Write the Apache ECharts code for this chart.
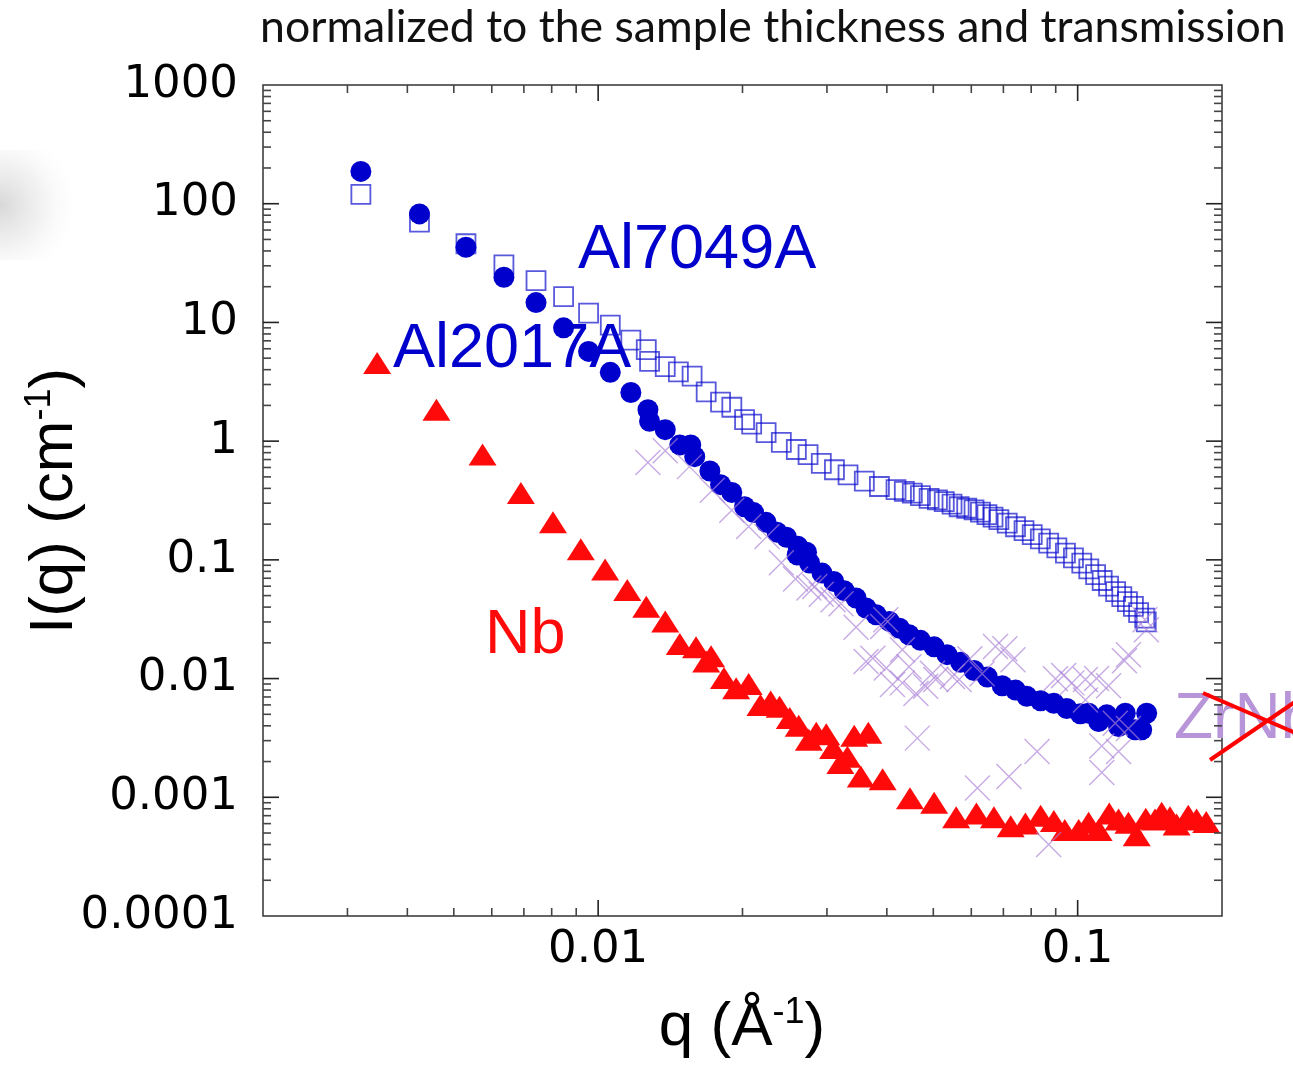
<!DOCTYPE html>
<html>
<head>
<meta charset="utf-8">
<title>I(q) normalized</title>
<script src="https://cdn.jsdelivr.net/npm/echarts@6/dist/echarts.min.js"></script>
<style>
  html, body { margin: 0; padding: 0; background: #fff; }
  #chart { width: 1293px; height: 1065px; }
</style>
</head>
<body>
<div id="chart"></div>
<script>
// [q (1/Å), I(q) (1/cm)]
const al7049A = [
  [0.0032, 120], [0.00424, 70], [0.0053, 46], [0.00636, 30.5], [0.00742, 22.5], [0.00847, 16.5],
  [0.00955, 12], [0.0106, 9.5], [0.0117, 7.1], [0.0126, 5.9], [0.0128, 4.7], [0.0138, 4.25],
  [0.0147, 3.83], [0.0157, 3.53], [0.0168, 2.6], [0.018, 2.13], [0.019, 1.93], [0.0202, 1.52],
  [0.0209, 1.39], [0.0224, 1.18], [0.0241, 0.975], [0.0259, 0.85], [0.0274, 0.77], [0.0292, 0.65],
  [0.0311, 0.574], [0.0332, 0.52], [0.0359, 0.46], [0.0386, 0.415], [0.0418, 0.39], [0.0435, 0.377],
  [0.0452, 0.365], [0.047, 0.348], [0.049, 0.33], [0.051, 0.32], [0.0527, 0.31], [0.0547, 0.295],
  [0.0566, 0.28], [0.0587, 0.272], [0.0608, 0.264], [0.0627, 0.252], [0.0647, 0.24], [0.0666, 0.229],
  [0.0685, 0.218], [0.0713, 0.204], [0.0742, 0.19], [0.0773, 0.176], [0.0804, 0.163], [0.0836, 0.15],
  [0.087, 0.1385], [0.0905, 0.126], [0.0943, 0.114], [0.098, 0.104], [0.102, 0.094], [0.1055, 0.084],
  [0.109, 0.075], [0.1125, 0.067], [0.116, 0.06], [0.12, 0.054], [0.1236, 0.049], [0.127, 0.0445],
  [0.1307, 0.0405], [0.134, 0.036], [0.138, 0.0323], [0.139, 0.03]
];
const al2017A = [
  [0.0032, 187], [0.00424, 82], [0.0053, 43], [0.00636, 24], [0.00742, 14.7], [0.00847, 9.0],
  [0.00955, 5.7], [0.0106, 3.8], [0.0117, 2.57], [0.0127, 1.84], [0.0128, 1.47], [0.0138, 1.25],
  [0.0148, 0.93], [0.0156, 0.93], [0.0159, 0.74], [0.0171, 0.56], [0.018, 0.43], [0.019, 0.37],
  [0.0202, 0.28], [0.0211, 0.25], [0.0224, 0.207], [0.0236, 0.171], [0.0247, 0.155], [0.0261, 0.13],
  [0.026, 0.11], [0.0272, 0.116], [0.0276, 0.094], [0.0293, 0.0774], [0.031, 0.0658], [0.0326, 0.055],
  [0.0345, 0.0477], [0.0362, 0.0393], [0.038, 0.0345], [0.0405, 0.0303], [0.0425, 0.0266], [0.0445, 0.0234],
  [0.047, 0.021], [0.0502, 0.0185], [0.0534, 0.0159], [0.057, 0.0137], [0.0608, 0.0117], [0.0648, 0.0103],
  [0.0696, 0.0087], [0.0742, 0.008], [0.0783, 0.0071], [0.0837, 0.0065], [0.0892, 0.0062], [0.0949, 0.0056],
  [0.1013, 0.00505], [0.1054, 0.0051], [0.1106, 0.00435], [0.115, 0.00495], [0.1217, 0.00395], [0.1257, 0.0051],
  [0.1318, 0.0037], [0.136, 0.0037], [0.1393, 0.0051]
];
const nb = [
  [0.00346, 4.55], [0.0046, 1.84], [0.00574, 0.77], [0.0069, 0.365], [0.00805, 0.207], [0.0092, 0.123],
  [0.01034, 0.083], [0.0115, 0.0557], [0.0126, 0.0403], [0.0138, 0.0303], [0.0148, 0.0196], [0.016, 0.0184],
  [0.0172, 0.0154], [0.0168, 0.0139], [0.0183, 0.0101], [0.0194, 0.0083], [0.0206, 0.009], [0.0218, 0.006],
  [0.0229, 0.0064], [0.0239, 0.0058], [0.0251, 0.00465], [0.0262, 0.004], [0.0275, 0.00305], [0.0285, 0.0035],
  [0.0299, 0.0034], [0.0309, 0.0026], [0.032, 0.00194], [0.0331, 0.0022], [0.0342, 0.0033], [0.0366, 0.0035],
  [0.0353, 0.0015], [0.0392, 0.00142], [0.0447, 0.00098], [0.0502, 0.0009], [0.0558, 0.00068], [0.0615, 0.00073],
  [0.0669, 0.00068], [0.0725, 0.00057], [0.0778, 0.0006], [0.0837, 0.0007], [0.0892, 0.00063], [0.094, 0.00053],
  [0.1005, 0.00053], [0.1054, 0.00061], [0.1106, 0.00053], [0.1164, 0.00073], [0.1217, 0.00065], [0.1276, 0.00061],
  [0.1328, 0.00048], [0.1387, 0.00066], [0.145, 0.00065], [0.1497, 0.00074], [0.1558, 0.00068], [0.1608, 0.00059],
  [0.1701, 0.0007], [0.177, 0.00065], [0.1854, 0.00062]
];
const zrNb = [
  [0.0127, 0.66], [0.0138, 0.83], [0.0155, 0.61], [0.0173, 0.386], [0.019, 0.262], [0.0206, 0.191],
  [0.0225, 0.157], [0.0241, 0.0945], [0.0258, 0.069], [0.0275, 0.058], [0.0283, 0.0597], [0.0292, 0.0513],
  [0.0309, 0.0461], [0.0321, 0.0427], [0.0345, 0.027], [0.0362, 0.0139], [0.0374, 0.0148], [0.0392, 0.0275],
  [0.0398, 0.0313], [0.0399, 0.0123], [0.0411, 0.0089], [0.0431, 0.0175], [0.0431, 0.0092], [0.0445, 0.0126],
  [0.046, 0.0075], [0.0463, 0.00315], [0.0482, 0.0086], [0.0498, 0.0111], [0.0506, 0.0098], [0.0548, 0.0104],
  [0.0566, 0.0098], [0.0596, 0.0147], [0.0618, 0.0012], [0.0632, 0.011], [0.0674, 0.0186], [0.0705, 0.0178],
  [0.0719, 0.0015], [0.0733, 0.0144], [0.0823, 0.00243], [0.087, 0.0004], [0.0899, 0.00996], [0.0935, 0.0106],
  [0.0973, 0.0092], [0.1038, 0.0098], [0.1038, 0.0066], [0.1095, 0.01], [0.1123, 0.0027], [0.1123, 0.00162],
  [0.116, 0.0087], [0.1198, 0.0042], [0.1217, 0.00243], [0.1252, 0.0141], [0.1276, 0.0159], [0.1276, 0.0038],
  [0.1382, 0.0313], [0.1391, 0.0258]
];

const xRange = [0.002, 0.2];
const yRange = [0.0001, 1000];
const xTickLabels = ['0.01', '0.1'];
const yTickLabels = ['0.0001', '0.001', '0.01', '0.1', '1', '10', '100', '1000'];

function decadeLabel(labels, value) {
  const hit = labels.find(l => Math.abs(Number(l) - value) < value * 1e-6);
  return hit === undefined ? '' : hit;
}

// minor + major log ticks on all four sides of the box
const tickItems = [];
for (let e = -3; e <= -1; e++) {
  for (let m = 1; m <= 9; m++) {
    const v = m * Math.pow(10, e);
    if (v <= xRange[0] * 1.0001 || v >= xRange[1] * 0.9999) continue;
    tickItems.push([v, 1, m === 1 ? 0 : 1]);
  }
}
for (let e = -4; e <= 2; e++) {
  for (let m = 1; m <= 9; m++) {
    const v = m * Math.pow(10, e);
    if (v <= yRange[0] * 1.0001 || v >= yRange[1] * 0.9999) continue;
    tickItems.push([0.01, v, m === 1 ? 2 : 3]);
  }
}

function renderTick(params, api) {
  const cs = params.coordSys;
  const kind = api.value(2);
  const major = kind === 0 || kind === 2;
  const len = major ? 16 : 8;
  const st = () => ({ stroke: major ? '#222' : '#444', lineWidth: 1.6 });
  if (kind < 2) {
    const x = api.coord([api.value(0), 1])[0];
    return { type: 'group', children: [
      { type: 'line', shape: { x1: x, y1: cs.y + cs.height, x2: x, y2: cs.y + cs.height - len }, style: st() },
      { type: 'line', shape: { x1: x, y1: cs.y, x2: x, y2: cs.y + len }, style: st() }
    ]};
  }
  const y = api.coord([0.01, api.value(1)])[1];
  return { type: 'group', children: [
    { type: 'line', shape: { x1: cs.x, y1: y, x2: cs.x + len, y2: y }, style: st() },
    { type: 'line', shape: { x1: cs.x + cs.width, y1: y, x2: cs.x + cs.width - len, y2: y }, style: st() }
  ]};
}

const chart = echarts.init(document.getElementById('chart'), null, { renderer: 'canvas' });

const labelFont = 'Liberation Sans';
const option = {
  backgroundColor: '#fff',
  animation: false,
  grid: { left: 263, right: 71, top: 85, bottom: 149, show: true, borderColor: '#333', borderWidth: 1.5, backgroundColor: 'transparent' },
  xAxis: {
    type: 'log', min: xRange[0], max: xRange[1], logBase: 10,
    axisLine: { show: false }, axisTick: { show: false }, splitLine: { show: false }, minorTick: { show: false },
    axisLabel: {
      color: '#000', fontFamily: 'DejaVu Sans', fontSize: 45, margin: 12,
      formatter: v => decadeLabel(xTickLabels, v)
    }
  },
  yAxis: {
    type: 'log', min: yRange[0], max: yRange[1], logBase: 10,
    axisLine: { show: false }, axisTick: { show: false }, splitLine: { show: false }, minorTick: { show: false },
    axisLabel: {
      color: '#000', fontFamily: 'DejaVu Sans', fontSize: 45, margin: 25, padding: [0, 0, 12, 0],
      formatter: v => decadeLabel(yTickLabels, v)
    }
  },
  series: [
    {
      name: 'ticks', type: 'custom', renderItem: renderTick, data: tickItems,
      encode: { x: 0, y: 1 }, silent: true, z: 6
    },
    {
      name: 'Al7049A', type: 'scatter', data: al7049A, symbol: 'rect', symbolSize: 19, silent: true, z: 2,
      itemStyle: { color: 'rgba(255,255,255,0)', borderColor: 'rgba(10,10,205,0.85)', borderWidth: 1.8 }
    },
    {
      name: 'Al2017A', type: 'scatter', data: al2017A, symbol: 'circle', symbolSize: 21, silent: true, z: 3,
      itemStyle: { color: '#0000cc', opacity: 1 }
    },
    {
      name: 'Nb', type: 'scatter', data: nb, symbol: 'triangle', symbolSize: [28, 22], silent: true, z: 4,
      itemStyle: { color: '#ff0a0a', opacity: 1 }
    },
    {
      name: 'ZrNb', type: 'scatter', data: zrNb, symbol: 'path://M0,0L20,20M20,0L0,20', symbolSize: 25, silent: true, z: 5,
      itemStyle: { color: 'rgba(255,255,255,0)', borderColor: 'rgba(172,130,215,0.85)', borderWidth: 1.4 }
    }
  ],
  graphic: [
    { type: 'rect', z: 0, silent: true, shape: { x: 0, y: 150, width: 110, height: 110 },
      style: { fill: new echarts.graphic.RadialGradient(0, 0.5, 0.75, [
        { offset: 0, color: 'rgba(175,175,175,0.5)' },
        { offset: 0.5, color: 'rgba(210,210,210,0.3)' },
        { offset: 1, color: 'rgba(255,255,255,0)' }]) } },
    { type: 'text', x: 260, y: 28, z: 1, silent: true,
      style: { text: 'normalized to the sample thickness and transmission', fontFamily: 'Lato', fontSize: 44.6,
        fill: '#111', align: 'left', verticalAlign: 'middle', textAlign: 'left', textVerticalAlign: 'middle' } },
    { type: 'text', x: 578, y: 251, z: 1, silent: true,
      style: { text: 'Al7049A', fontFamily: labelFont, fontSize: 63, fill: '#0000cc',
        align: 'left', verticalAlign: 'middle', textAlign: 'left', textVerticalAlign: 'middle' } },
    { type: 'text', x: 393, y: 350, z: 1, silent: true,
      style: { text: 'Al2017A', fontFamily: labelFont, fontSize: 63, fill: '#0000cc',
        align: 'left', verticalAlign: 'middle', textAlign: 'left', textVerticalAlign: 'middle' } },
    { type: 'text', x: 485, y: 636, z: 1, silent: true,
      style: { text: 'Nb', fontFamily: labelFont, fontSize: 63, fill: '#ff0a0a',
        align: 'left', verticalAlign: 'middle', textAlign: 'left', textVerticalAlign: 'middle' } },
    { type: 'text', x: 1174, y: 720, z: 1, silent: true,
      style: { text: 'ZrNb', fontFamily: labelFont, fontSize: 64, fill: '#b894d8',
        align: 'left', verticalAlign: 'middle', textAlign: 'left', textVerticalAlign: 'middle' } },
    { type: 'line', z: 50, silent: true, shape: { x1: 1203, y1: 693, x2: 1305, y2: 737 },
      style: { stroke: '#ff0000', lineWidth: 4 } },
    { type: 'line', z: 50, silent: true, shape: { x1: 1210, y1: 760, x2: 1305, y2: 695 },
      style: { stroke: '#ff0000', lineWidth: 4 } },
    { type: 'text', x: 742, y: 1028, z: 1, silent: true,
      style: { text: '{n|q (Å}{s|-1}{n|)}', fill: '#000', align: 'center', verticalAlign: 'middle',
        textAlign: 'center', textVerticalAlign: 'middle',
        rich: { n: { fontFamily: labelFont, fontSize: 62, fill: '#000' },
                s: { fontFamily: labelFont, fontSize: 36, fill: '#000', padding: [0, 0, 30, 0] } } } },
    { type: 'text', x: 55, y: 501, rotation: Math.PI / 2, z: 1, silent: true,
      style: { text: '{n|I(q) (cm}{s|-1}{n|)}', fill: '#000', align: 'center', verticalAlign: 'middle',
        textAlign: 'center', textVerticalAlign: 'middle',
        rich: { n: { fontFamily: labelFont, fontSize: 62, fill: '#000' },
                s: { fontFamily: labelFont, fontSize: 36, fill: '#000', padding: [0, 0, 30, 0] } } } }
  ]
};

chart.setOption(option);
</script>
</body>
</html>
